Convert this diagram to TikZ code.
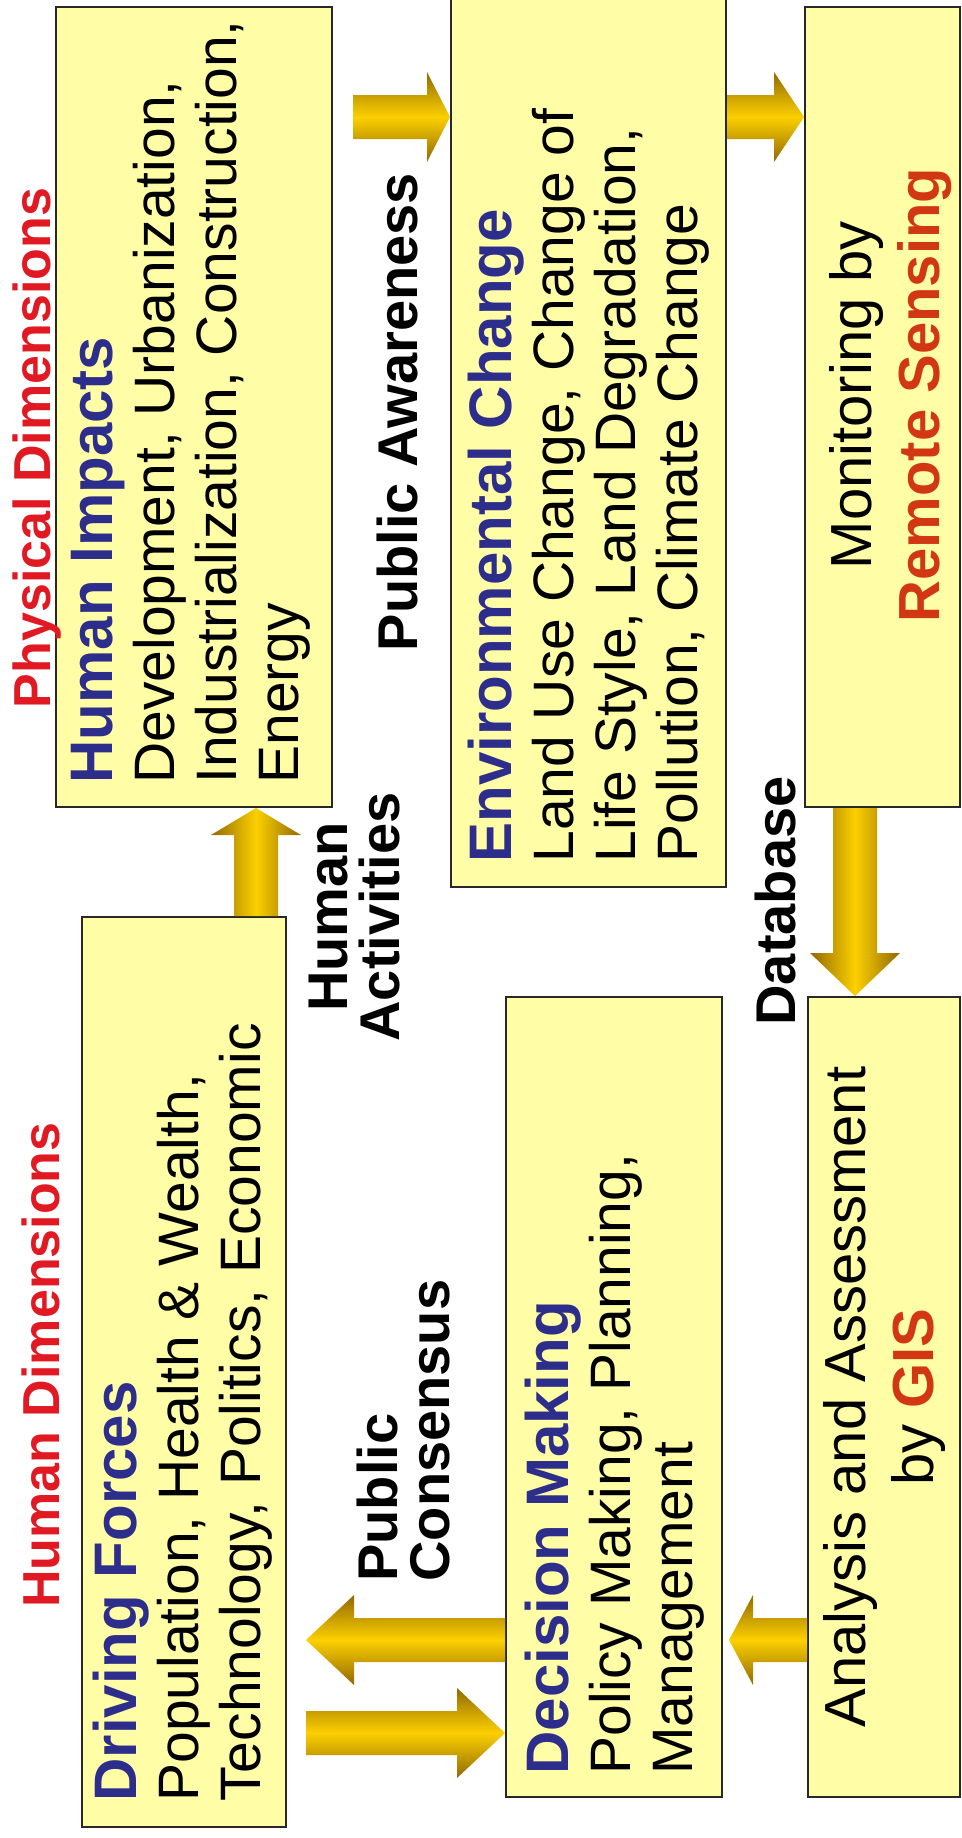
\documentclass[tikz,border=0pt]{standalone}
\usepackage{fontspec}
\setmainfont{Liberation Sans}
\usetikzlibrary{calc,fit}
\definecolor{boxfill}{RGB}{255,253,165}
\definecolor{boxline}{RGB}{40,40,40}
\definecolor{titleblue}{RGB}{45,45,140}
\definecolor{dimred}{RGB}{225,25,35}
\definecolor{rsred}{RGB}{210,55,20}
\definecolor{golddark}{RGB}{145,105,0}
\definecolor{goldlight}{RGB}{252,208,0}
% block arrow: #1 shading, #2 tail, #3 tip, #4 head length
\newcommand\goldarrow[4]{%
\coordinate (hb) at ($(#3)!#4!(#2)$);
\shade[#1] ($(#2)!11pt!90:(#3)$) -- ($(hb)!11pt!90:(#3)$) -- ($(hb)!22.5pt!90:(#3)$) -- (#3)
  -- ($(hb)!22.5pt!-90:(#3)$) -- ($(hb)!11pt!-90:(#3)$) -- ($(#2)!11pt!-90:(#3)$) -- cycle;
}
\newcommand\boxtitle[1]{\textcolor{titleblue}{\fontsize{30}{31}\selectfont\bfseries #1}}
\begin{document}
\begin{tikzpicture}[x=0.5pt,y=-0.5pt,
box/.style={draw=boxline,fill=boxfill,line width=1pt,inner sep=0pt},
boxtext/.style={rotate=90,anchor=west,align=left,inner sep=0pt,font=\fontsize{28.5}{31}\selectfont},
centertext/.style={rotate=90,align=center,inner sep=0pt,font=\fontsize{29}{34}\selectfont},
flowlabel/.style={rotate=90,align=center,inner sep=0pt,font=\bfseries\fontsize{28}{26}\selectfont},
dimtext/.style={rotate=90,anchor=base,inner sep=0pt,text=dimred,font=\bfseries\fontsize{26}{30}\selectfont},
goldv/.style={left color=golddark,right color=golddark,middle color=goldlight},
goldh/.style={top color=golddark,bottom color=golddark,middle color=goldlight}]
\useasboundingbox (0,0) rectangle (962,1838);
\node[box,fit={(56,7) (332,807)}] (HI) {};
\node[box,fit={(82,917) (286,1827)}] (DF) {};
\node[box,fit={(451,-4) (726,887)}] (EC) {};
\node[box,fit={(805,7) (960,807)}] (MRS) {};
\node[box,fit={(506,997) (722,1797)}] (DM) {};
\node[box,fit={(808,997) (960,1797)}] (AA) {};

\node[boxtext] (HItext) at ($(HI.south)+(-3,-24)$) {\boxtitle{Human Impacts}\\Development, Urbanization,\\Industrialization, Construction,\\Energy};
\node[boxtext] (DFtext) at ($(DF.south)+(-1.5,-26)$) {\boxtitle{Driving Forces}\\Population, Health \& Wealth,\\Technology, Politics, Economic};
\node[boxtext] (ECtext) at ($(EC.south)+(0,-25)$) {\boxtitle{Environmental Change}\\Land Use Change, Change of\\Life Style, Land Degradation,\\Pollution, Climate Change};
\node[boxtext] (DMtext) at ($(DM.south)+(1,-23)$) {\boxtitle{Decision Making}\\Policy Making, Planning,\\Management};
\node[centertext] (MRStext) at ($(MRS.center)+(8,-12)$) {Monitoring by\\\textcolor{rsred}{\bfseries Remote Sensing}};
\node[centertext] (AAtext) at (AA.center) {Analysis and Assessment\\by \textcolor{rsred}{\bfseries GIS}};

\node[dimtext] (hdim) at (60,1365) {Human Dimensions};
\node[dimtext] (pdim) at (50,448) {Physical Dimensions};
\node[flowlabel] (hact) at (355,917) {Human\\Activities};
\node[flowlabel,anchor=base] (paw) at (417,412) {Public Awareness};
\node[flowlabel,anchor=base] (dbase) at (795,901) {Database};
\node[flowlabel,anchor=west,align=left] (pcons) at (403,1582) {Public\\Consensus};

\coordinate (laneA) at (256,0);
\coordinate (laneD) at (855,0);
\coordinate (rowA) at (0,117);
\coordinate (rowB) at (0,1640);
\coordinate (rowC) at (0,1733);
\coordinate (pawtail) at ($(HI.east |- rowA)+(20,0)$);
\coordinate (aatip) at ($(DM.east |- rowB)+(6,0)$);
\coordinate (dftip) at ($(DF.east |- rowB)+(19,0)$);
\coordinate (dftail) at ($(DF.east |- rowC)+(19,0)$);
\goldarrow{goldv}{DF.north -| laneA}{HI.south -| laneA}{13.5pt}
\goldarrow{goldh}{pawtail}{EC.west |- rowA}{11.5pt}
\goldarrow{goldh}{EC.east |- rowA}{MRS.west |- rowA}{15pt}
\goldarrow{goldv}{MRS.south -| laneD}{AA.north -| laneD}{21.5pt}
\goldarrow{goldh}{AA.west |- rowB}{aatip}{12pt}
\goldarrow{goldh}{DM.west |- rowB}{dftip}{24pt}
\goldarrow{goldh}{dftail}{DM.west |- rowC}{24pt}
\end{tikzpicture}
\end{document}
